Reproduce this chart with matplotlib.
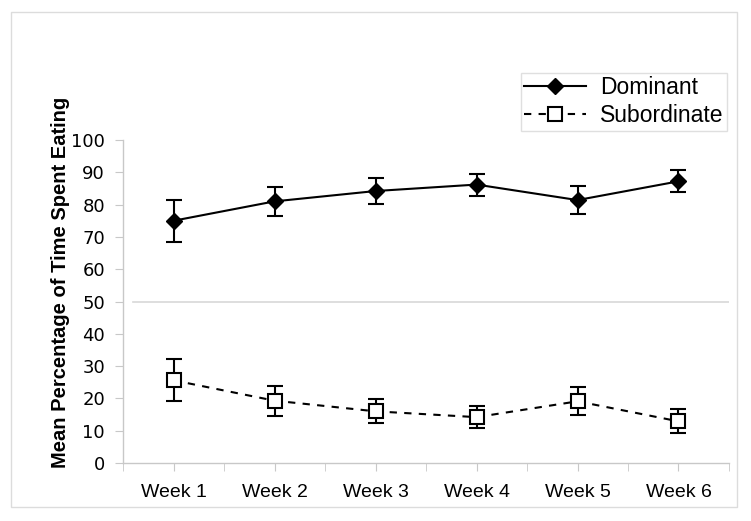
import numpy as np
import matplotlib.pyplot as plt
from matplotlib.patches import Rectangle


weeks = ['Week 1', 'Week 2', 'Week 3', 'Week 4', 'Week 5', 'Week 6']
dominant = [75.0, 81.0, 84.2, 86.2, 81.4, 87.2]
dominant_err = [6.5, 4.6, 4.0, 3.4, 4.3, 3.4]
subordinate = [25.6, 19.3, 16.0, 14.2, 19.1, 12.9]
subordinate_err = [6.5, 4.6, 3.7, 3.4, 4.3, 3.7]
y_ticks = [0, 10, 20, 30, 40, 50, 60, 70, 80, 90, 100]


if __name__ == '__main__':

    fig = plt.figure(figsize=(7.51, 5.21), dpi=100)
    ax = fig.add_axes([0.1638, 0.1113, 0.8069, 0.62])
    x = np.arange(len(weeks))
    gray = '#c8c8c8'

    # reference line at 50
    ax.axhline(50, xmin=0.017, xmax=1.0, color='#d8d8d8', lw=1.2, zorder=1)

    # error bars first, lines with markers on top
    ax.errorbar(x, dominant, yerr=dominant_err, fmt='none', ecolor='black',
                elinewidth=1.5, capsize=5.5, capthick=1.5, zorder=2)
    ax.errorbar(x, subordinate, yerr=subordinate_err, fmt='none', ecolor='black',
                elinewidth=1.5, capsize=5.5, capthick=1.5, zorder=2)
    ax.plot(x, dominant, '-', marker='D', color='black', lw=1.5,
            markersize=8.5, label='Dominant', zorder=3)
    ax.plot(x, subordinate, '--', marker='s', color='black', lw=1.5,
            dashes=(3.5, 3.5), markersize=10, markerfacecolor='white',
            markeredgewidth=1.5, label='Subordinate', zorder=3)

    ax.set_xlim(-0.5, 5.5)
    ax.set_ylim(0, 100)
    ax.set_yticks(y_ticks)
    ax.set_yticklabels([str(v) for v in y_ticks], fontsize=13,
                       fontfamily='DejaVu Sans')
    ax.set_xticks(x)
    ax.set_xticklabels(weeks, fontsize=14, fontfamily='Liberation Sans')
    ax.set_xticks(np.arange(-0.5, 6.0, 1.0), minor=True)
    ax.tick_params(axis='y', length=6, color=gray, pad=7)
    ax.tick_params(axis='x', which='both', length=6, color=gray, pad=9)

    for side in ['top', 'right']:
        ax.spines[side].set_visible(False)
    for side in ['left', 'bottom']:
        ax.spines[side].set_color(gray)
        ax.spines[side].set_linewidth(1.0)

    ax.set_ylabel('Mean Percentage of Time Spent Eating', fontsize=14.5,
                  fontweight='bold', fontfamily='Liberation Sans')
    ax.yaxis.set_label_coords(-0.087, 0.56)

    leg = fig.legend(loc='upper right', bbox_to_anchor=(0.968, 0.86),
                     prop={'family': 'Liberation Sans', 'size': 16.5},
                     frameon=True, fancybox=False, borderpad=0.15,
                     handlelength=2.7, handletextpad=0.6, labelspacing=0.22,
                     borderaxespad=0)
    leg.get_frame().set_edgecolor('#d8d8d8')
    leg.get_frame().set_linewidth(1.0)

    # light border round the whole picture
    fig.patches.append(Rectangle((0.014, 0.027), 0.968, 0.95, transform=fig.transFigure,
                                 fill=False, edgecolor='#dcdcdc', lw=1.0))

    plt.savefig('out.png', dpi=100)
    plt.close()
